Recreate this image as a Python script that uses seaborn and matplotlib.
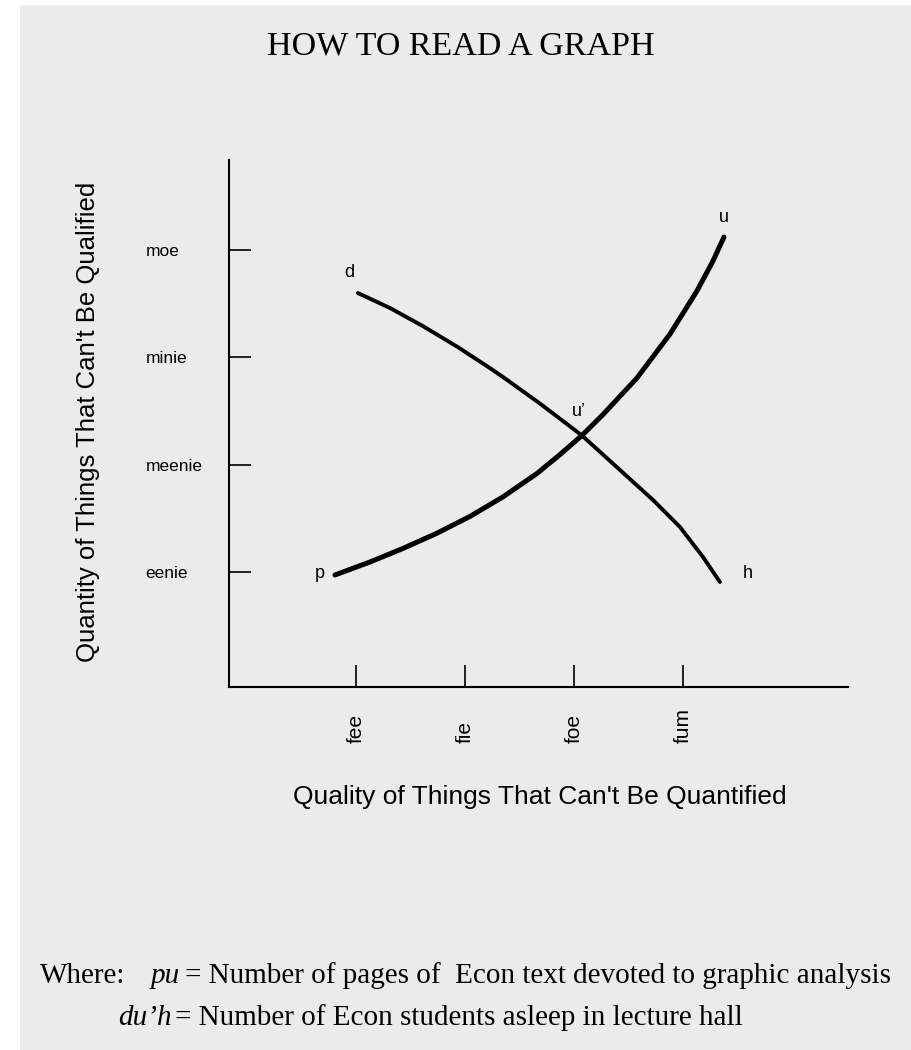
import matplotlib
matplotlib.use("Agg")
import matplotlib.pyplot as plt
import seaborn as sns
import pandas as pd
from matplotlib.patches import Rectangle

# ---------------- data ----------------
title = "HOW TO READ A GRAPH"
x_label = "Quality of Things That Can't Be Quantified"
y_label = "Quantity of Things That Can't Be Qualified"
x_tick_labels = ["fee", "fie", "foe", "fum"]
y_tick_labels = ["eenie", "meenie", "minie", "moe"]
x_ticks = [1, 2, 3, 4]
y_ticks = [1, 2, 3, 4]

# demand-like curve d -> h
demand_x = [1.018, 1.312, 1.615, 1.927, 2.229, 2.385, 2.688, 2.936, 3.073,
            3.422, 3.725, 3.972, 4.183, 4.339]
demand_y = [3.595, 3.456, 3.287, 3.097, 2.897, 2.788, 2.567, 2.376, 2.270,
            1.949, 1.670, 1.419, 1.140, 0.907]
# supply-like curve p -> u
supply_x = [0.807, 1.128, 1.431, 1.743, 2.046, 2.349, 2.661, 2.872, 3.073,
            3.266, 3.578, 3.881, 4.128, 4.275, 4.376]
supply_y = [0.972, 1.093, 1.219, 1.361, 1.517, 1.699, 1.917, 2.093, 2.270,
            2.465, 2.805, 3.214, 3.614, 3.893, 4.116]
intersection_index = 8  # point u' in supply series

footnote_where = "Where:"
footnote_vars = ["pu", "du\u2019h"]
footnote_defs = ["= Number of pages of  Econ text devoted to graphic analysis",
                 "= Number of Econ students asleep in lecture hall"]

# ---------------- style ----------------
sns.set_theme(style="ticks")
plt.rcParams["font.family"] = ["Liberation Sans", "DejaVu Sans"]
plt.rcParams["text.color"] = "black"

W, H = 912, 1050
fig = plt.figure(figsize=(W / 100, H / 100), dpi=100)
fig.patch.set_facecolor("white")
fig.patches.append(Rectangle((20 / W, 0), 1 - 20 / W, 1 - 5 / H, transform=fig.transFigure,
                             facecolor="#ebebeb", edgecolor="none", zorder=-10))

ax_l, ax_r, ax_t, ax_b = 229, 848, 160, 687
ax = fig.add_axes([ax_l / W, 1 - ax_b / H, (ax_r - ax_l) / W, (ax_b - ax_t) / H])
ax.set_facecolor("none")

demand = pd.DataFrame({"x": demand_x, "y": demand_y})
supply = pd.DataFrame({"x": supply_x, "y": supply_y})
sns.lineplot(data=demand, x="x", y="y", sort=False, estimator=None, color="black",
             linewidth=2.8, ax=ax, solid_capstyle="round", solid_joinstyle="round")
sns.lineplot(data=supply, x="x", y="y", sort=False, estimator=None, color="black",
             linewidth=3.6, ax=ax, solid_capstyle="round", solid_joinstyle="round")

ax.set_xlim(-0.165, 5.514)
ax.set_ylim(-0.070, 4.833)

for s in ["top", "right"]:
    ax.spines[s].set_visible(False)
for s in ["left", "bottom"]:
    ax.spines[s].set_color("black")
    ax.spines[s].set_linewidth(1.5)

ax.set_xticks(x_ticks)
ax.set_xticklabels(x_tick_labels, rotation=90, fontsize=15)
ax.set_yticks(y_ticks)
ax.set_yticklabels(y_tick_labels, fontsize=12.5)
ax.tick_params(axis="both", direction="in", length=16, width=1.2, color="black", labelcolor="black")
ax.tick_params(axis="x", pad=40)
ax.tick_params(axis="y", pad=60)
for lab in ax.get_xticklabels():
    lab.set_verticalalignment("bottom")
for lab in ax.get_yticklabels():
    lab.set_horizontalalignment("left")

ax.set_xlabel(x_label, fontsize=19, color="black")
ax.xaxis.set_label_coords(0.502, -0.209)
ax.xaxis.label.set_verticalalignment("center")
ax.set_ylabel(y_label, fontsize=18.5, color="black")
ax.yaxis.set_label_coords(-0.228, 0.503)
ax.yaxis.label.set_verticalalignment("center")

# point labels relative to curve ends
lab_kw = dict(textcoords="offset points", fontsize=13, color="black", ha="center", va="center")
ax.annotate("d", (demand_x[0], demand_y[0]), xytext=(-6, 15), **lab_kw)
ax.annotate("h", (demand_x[-1], demand_y[-1]), xytext=(20, 6), **lab_kw)
ax.annotate("p", (supply_x[0], supply_y[0]), xytext=(-11, 1), **lab_kw)
ax.annotate("u", (supply_x[-1], supply_y[-1]), xytext=(0, 14), **lab_kw)
ax.annotate("u\u2019", (supply_x[intersection_index], supply_y[intersection_index]),
            xytext=(-2, 17), **lab_kw)

# title
fig.text(461 / W, 1 - 46 / H, title, ha="center", va="center", fontsize=24.5,
         family="Liberation Serif", color="black")

# footnote
serif = "Liberation Serif"
fs = 21
y1, y2 = 1 - 983 / H, 1 - 1025 / H
txt_kw = dict(va="baseline", fontsize=fs, family=serif, color="black")
fig.text(40 / W, y1, footnote_where, ha="left", **txt_kw)
fig.text(180 / W, y1, footnote_vars[0], ha="right", style="italic", **txt_kw)
fig.text(185 / W, y1, footnote_defs[0], ha="left", **txt_kw)
fig.text(172 / W, y2, footnote_vars[1], ha="right", style="italic", **txt_kw)
fig.text(175 / W, y2, footnote_defs[1], ha="left", **txt_kw)

fig.savefig("out.png", dpi=100, facecolor=fig.get_facecolor())
